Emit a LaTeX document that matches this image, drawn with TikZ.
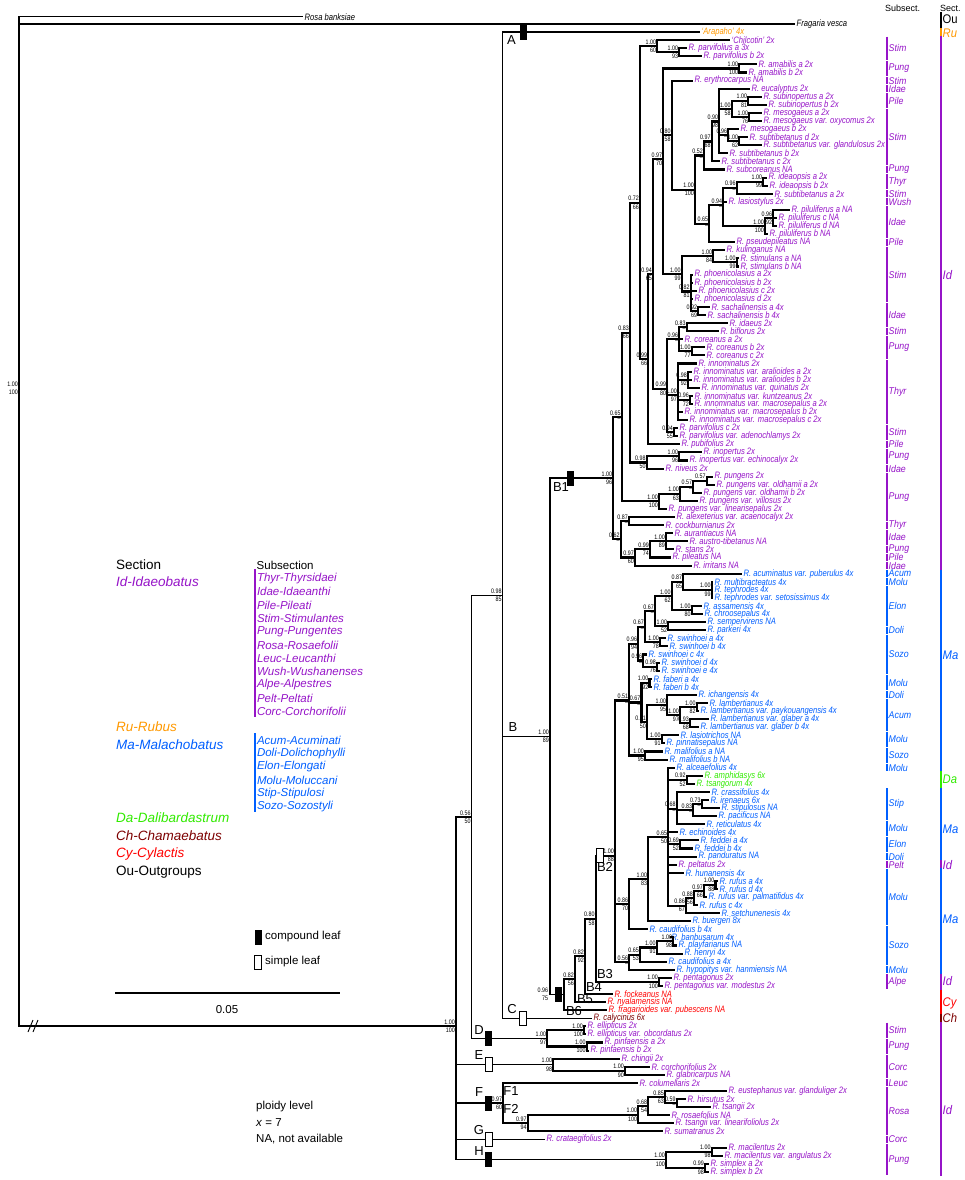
\documentclass[tikz,border=0pt]{standalone}
\usepackage{fontspec}
\setmainfont{Liberation Sans}
\newfontfamily\nar[FakeStretch=0.82]{Liberation Sans}
\newfontfamily\narb[FakeStretch=0.9]{Liberation Sans}
\usetikzlibrary{calc}
\definecolor{pu}{RGB}{150,20,200}
\definecolor{bl}{RGB}{0,95,255}
\definecolor{gr}{RGB}{50,235,0}
\definecolor{orn}{RGB}{255,153,0}
\definecolor{rd}{RGB}{255,0,0}
\definecolor{drd}{RGB}{125,0,0}
\newcommand\lfont{\nar\itshape\fontsize{9.3}{9.3}\selectfont}
\newcommand\supf{\nar\fontsize{6.5}{6.5}\selectfont}
\newdimen\tmpy
\tikzset{
  leaf/.style={anchor=west, inner sep=0pt, xshift=1.5pt, font=\lfont},
  br/.style={line width=2.1pt},
  bb/.style={line width=1.4pt},
  post/.style={anchor=south east, inner sep=0pt, font=\supf, xshift=-1pt, yshift=1.6pt},
  boot/.style={anchor=north east, inner sep=0pt, font=\supf, xshift=-1pt, yshift=-1.6pt},
  cmp/.style={draw=black, fill=black, minimum width=6pt, minimum height=14pt, inner sep=0pt, line width=0.6pt},
  smp/.style={draw=black, fill=white, minimum width=7pt, minimum height=14pt, inner sep=0pt, line width=0.6pt},
  clade/.style={font=\fontsize{13}{13}\selectfont, inner sep=0pt},
  sslab/.style={anchor=west, inner sep=0pt, xshift=1.5pt, font=\narb\itshape\fontsize{9.8}{9.8}\selectfont},
  seclab/.style={anchor=west, inner sep=0pt, xshift=1.5pt, font=\narb\itshape\fontsize{12.5}{12.5}\selectfont},
  lgbig/.style={anchor=west, inner sep=0pt, font=\fontsize{13.5}{13.5}\selectfont},
  lgsm/.style={anchor=west, inner sep=0pt, font=\fontsize{11.5}{11.5}\selectfont},
}
% leaf: index, x of branch end, colour, text
\newcommand\lf[4]{%
  \pgfmathsetmacro\ly{24+(#1-1)*8.083}%
  \coordinate (l#1) at (#2,\ly);%
  \node[leaf,text=#3] (t#1) at (l#1) {#4};%
}
% internal node: [style] name, x, children, posterior, bootstrap
\newcommand\nd[6][br]{%
  \gdef\sumy{0}\gdef\cnty{0}%
  \foreach \ch in {#4}{%
    \pgfextracty{\tmpy}{\pgfpointanchor{\ch}{center}}%
    \pgfmathsetmacro\tmpa{\sumy+(\the\tmpy)}\xdef\sumy{\tmpa}%
    \pgfmathsetmacro\tmpa{\cnty+1}\xdef\cnty{\tmpa}%
  }%
  \pgfmathsetmacro\tmpa{\sumy/\cnty}%
  \coordinate (#2) at (#3pt,\tmpa pt);%
  \foreach \ch in {#4}{\draw[#1] (#2) |- (\ch);}%
  \node[post] (p#2) at (#2) {#5};%
  \node[boot] (b#2) at (#2) {#6};%
}
\newcommand\ndy[7][br]{%
  \coordinate (#2) at (#3,#4);%
  \foreach \ch in {#5}{\draw[#1] (#2) |- (\ch);}%
  \node[post] (p#2) at (#2) {#6};%
  \node[boot] (b#2) at (#2) {#7};%
}
% subsection bar: first leaf, last leaf, colour, label
\newcommand\ssec[4]{%
  \pgfmathsetmacro\ya{24+(#1-1)*8.083-3.6}%
  \pgfmathsetmacro\yb{24+(#2-1)*8.083+3.6}%
  \pgfmathsetmacro\ym{(\ya+\yb)/2}%
  \draw[#3, line width=1.6pt] (887,\ya) -- (887,\yb);%
  \node[sslab,text=#3] (ss#1) at (887,\ym) {#4};%
}
% section bar: y1, y2, colour, label, label y, name
\newcommand\secb[6]{%
  \draw[#3, line width=1.6pt] (941,#1) -- (941,#2);%
  \node[seclab,text=#3] (sc#6) at (941,#5) {#4};%
}
\begin{document}
\begin{tikzpicture}[x=1pt,y=-1pt]
\fill[white] (0,0) rectangle (965,1180);
\useasboundingbox (0,0) rectangle (965,1180);

% ---------------- leaves ----------------
\lf{1}{795}{black}{Fragaria vesca}
\lf{2}{700}{orn}{‘Arapaho’ 4x}
\lf{3}{730}{pu}{‘Chilcotin’ 2x}
\lf{4}{687}{pu}{R. parvifolius a 3x}
\lf{5}{702}{pu}{R. parvifolius b 2x}
\lf{6}{757}{pu}{R. amabilis a 2x}
\lf{7}{747}{pu}{R. amabilis b 2x}
\lf{8}{693}{pu}{R. erythrocarpus NA}
\lf{9}{750}{pu}{R. eucalyptus 2x}
\lf{10}{762}{pu}{R. subinopertus a 2x}
\lf{11}{767}{pu}{R. subinopertus b 2x}
\lf{12}{762}{pu}{R. mesogaeus a 2x}
\lf{13}{762}{pu}{R. mesogaeus var. oxycomus 2x}
\lf{14}{739}{pu}{R. mesogaeus b 2x}
\lf{15}{748}{pu}{R. subtibetanus d 2x}
\lf{16}{762}{pu}{R. subtibetanus var. glandulosus 2x}
\lf{17}{728}{pu}{R. subtibetanus b 2x}
\lf{18}{720}{pu}{R. subtibetanus c 2x}
\lf{19}{725}{pu}{R. subcoreanus NA}
\lf{20}{767}{pu}{R. ideaopsis a 2x}
\lf{21}{768}{pu}{R. ideaopsis b 2x}
\lf{22}{773}{pu}{R. subtibetanus a 2x}
\lf{23}{727}{pu}{R. lasiostylus 2x}
\lf{24}{790}{pu}{R. piluliferus a NA}
\lf{25}{777}{pu}{R. piluliferus c NA}
\lf{26}{777}{pu}{R. piluliferus d NA}
\lf{27}{768}{pu}{R. piluliferus b NA}
\lf{28}{735}{pu}{R. pseudepileatus NA}
\lf{29}{725}{pu}{R. kulinganus NA}
\lf{30}{739}{pu}{R. stimulans a NA}
\lf{31}{739}{pu}{R. stimulans b NA}
\lf{32}{693}{pu}{R. phoenicolasius a 2x}
\lf{33}{693}{pu}{R. phoenicolasius b 2x}
\lf{34}{697}{pu}{R. phoenicolasius c 2x}
\lf{35}{693}{pu}{R. phoenicolasius d 2x}
\lf{36}{710}{pu}{R. sachalinensis a 4x}
\lf{37}{706}{pu}{R. sachalinensis b 4x}
\lf{38}{728}{pu}{R. idaeus 2x}
\lf{39}{719}{pu}{R. biflorus 2x}
\lf{40}{683}{pu}{R. coreanus a 2x}
\lf{41}{705}{pu}{R. coreanus b 2x}
\lf{42}{705}{pu}{R. coreanus c 2x}
\lf{43}{697}{pu}{R. innominatus 2x}
\lf{44}{692}{pu}{R. innominatus var. aralioides a 2x}
\lf{45}{692}{pu}{R. innominatus var. aralioides b 2x}
\lf{46}{700}{pu}{R. innominatus var. quinatus 2x}
\lf{47}{693}{pu}{R. innominatus var. kuntzeanus 2x}
\lf{48}{693}{pu}{R. innominatus var. macrosepalus a 2x}
\lf{49}{683}{pu}{R. innominatus var. macrosepalus b 2x}
\lf{50}{688}{pu}{R. innominatus var. macrosepalus c 2x}
\lf{51}{678}{pu}{R. parvifolius c 2x}
\lf{52}{678}{pu}{R. parvifolius var. adenochlamys 2x}
\lf{53}{680}{pu}{R. pubifolius 2x}
\lf{54}{702}{pu}{R. inopertus 2x}
\lf{55}{688}{pu}{R. inopertus var. echinocalyx 2x}
\lf{56}{664}{pu}{R. niveus 2x}
\lf{57}{713}{pu}{R. pungens 2x}
\lf{58}{715}{pu}{R. pungens var. oldhamii a 2x}
\lf{59}{702}{pu}{R. pungens var. oldhamii b 2x}
\lf{60}{698}{pu}{R. pungens var. villosus 2x}
\lf{61}{667}{pu}{R. pungens var. linearisepalus 2x}
\lf{62}{675}{pu}{R. alexeterius var. acaenocalyx 2x}
\lf{63}{664}{pu}{R. cockburnianus 2x}
\lf{64}{673}{pu}{R. aurantiacus NA}
\lf{65}{688}{pu}{R. austro-tibetanus NA}
\lf{66}{674}{pu}{R. stans 2x}
\lf{67}{671}{pu}{R. pileatus NA}
\lf{68}{692}{pu}{R. irritans NA}
\lf{69}{742}{bl}{R. acuminatus var. puberulus 4x}
\lf{70}{713}{bl}{R. multibracteatus 4x}
\lf{71}{713}{bl}{R. tephrodes 4x}
\lf{72}{713}{bl}{R. tephrodes var. setosissimus 4x}
\lf{73}{702}{bl}{R. assamensis 4x}
\lf{74}{703}{bl}{R. chroosepalus 4x}
\lf{75}{706}{bl}{R. sempervirens NA}
\lf{76}{706}{bl}{R. parkeri 4x}
\lf{77}{666}{bl}{R. swinhoei a 4x}
\lf{78}{668}{bl}{R. swinhoei b 4x}
\lf{79}{647}{bl}{R. swinhoei c 4x}
\lf{80}{660}{bl}{R. swinhoei d 4x}
\lf{81}{660}{bl}{R. swinhoei e 4x}
\lf{82}{652}{bl}{R. faberi a 4x}
\lf{83}{652}{bl}{R. faberi b 4x}
\lf{84}{697}{bl}{R. ichangensis 4x}
\lf{85}{708}{bl}{R. lambertianus 4x}
\lf{86}{699}{bl}{R. lambertianus var. paykouangensis 4x}
\lf{87}{709}{bl}{R. lambertianus var. glaber a 4x}
\lf{88}{699}{bl}{R. lambertianus var. glaber b 4x}
\lf{89}{679}{bl}{R. lasiotrichos NA}
\lf{90}{665}{bl}{R. pinnatisepalus NA}
\lf{91}{663}{bl}{R. malifolius a NA}
\lf{92}{668}{bl}{R. malifolius b NA}
\lf{93}{675}{bl}{R. alceaefolius 4x}
\lf{94}{703}{gr}{R. amphidasys 6x}
\lf{95}{695}{gr}{R. tsangorum 4x}
\lf{96}{710}{bl}{R. crassifolius 4x}
\lf{97}{709}{bl}{R. irenaeus 6x}
\lf{98}{720}{bl}{R. stipulosus NA}
\lf{99}{717}{bl}{R. pacificus NA}
\lf{100}{705}{bl}{R. reticulatus 4x}
\lf{101}{678}{bl}{R. echinoides 4x}
\lf{102}{699}{bl}{R. feddei a 4x}
\lf{103}{693}{bl}{R. feddei b 4x}
\lf{104}{697}{bl}{R. panduratus NA}
\lf{105}{677}{pu}{R. peltatus 2x}
\lf{106}{684}{bl}{R. hunanensis 4x}
\lf{107}{718}{bl}{R. rufus a 4x}
\lf{108}{718}{bl}{R. rufus d 4x}
\lf{109}{707}{bl}{R. rufus var. palmatifidus 4x}
\lf{110}{698}{bl}{R. rufus c 4x}
\lf{111}{720}{bl}{R. setchunenesis 4x}
\lf{112}{691}{bl}{R. buergeri 8x}
\lf{113}{648}{bl}{R. caudifolius b 4x}
\lf{114}{670}{bl}{R. banbusarum 4x}
\lf{115}{677}{bl}{R. playfarianus NA}
\lf{116}{683}{bl}{R. henryi 4x}
\lf{117}{667}{bl}{R. caudifolius a 4x}
\lf{118}{675}{bl}{R. hypopitys var. hanmiensis NA}
\lf{119}{672}{pu}{R. pentagonus 2x}
\lf{120}{663}{pu}{R. pentagonus var. modestus 2x}
\lf{121}{613}{rd}{R. fockeanus NA}
\lf{122}{606}{rd}{R. nyalamensis NA}
\lf{123}{607}{rd}{R. fragarioides var. pubescens NA}
\lf{124}{592}{drd}{R. calycinus 6x}
\lf{125}{586}{pu}{R. ellipticus 2x}
\lf{126}{586}{pu}{R. ellipticus var. obcordatus 2x}
\lf{127}{603}{pu}{R. pinfaensis a 2x}
\lf{128}{589}{pu}{R. pinfaensis b 2x}
\lf{129}{620}{pu}{R. chingii 2x}
\lf{130}{650}{pu}{R. corchorifolius 2x}
\lf{131}{665}{pu}{R. glabricarpus NA}
\lf{132}{638}{pu}{R. columellaris 2x}
\lf{133}{727}{pu}{R. eustephanus var. glanduliger 2x}
\lf{134}{686}{pu}{R. hirsutus 2x}
\lf{135}{711}{pu}{R. tsangii 2x}
\lf{136}{670}{pu}{R. rosaefolius NA}
\lf{137}{674}{pu}{R. tsangii var. linearifoliolus 2x}
\lf{138}{663}{pu}{R. sumatranus 2x}
\lf{139}{545}{pu}{R. crataegifolius 2x}
\lf{140}{727}{pu}{R. macilentus 2x}
\lf{141}{723}{pu}{R. macilentus var. angulatus 2x}
\lf{142}{709}{pu}{R. simplex a 2x}
\lf{143}{709}{pu}{R. simplex b 2x}
\coordinate (lR) at (303,16.7);
\node[leaf] (tR) at (lR) {Rosa banksiae};

% ---------------- Idaeobatus (B1) ----------------
\nd{nPab}{679.3}{l4,l5}{1.00}{93}
\nd{nCh}{657.3}{l3,nPab}{1.00}{60}
\nd{nAma}{739.3}{l6,l7}{1.00}{100}
\nd{nSubi}{748.3}{l10,l11}{1.00}{81}
\nd{nMes}{749.3}{l12,l13}{1.00}{76}
\nd{nSa}{731.7}{nSubi,nMes}{1.00}{58}
\nd{nSdg}{739.3}{l15,l16}{1.00}{62}
\nd{nMb}{728.3}{l14,nSdg}{0.96}{–}
\nd{nNa}{719.3}{l9,nSa,nMb,l17}{0.90}{98}
\nd{nNb}{711.7}{nNa,l18}{0.97}{68}
\nd{nNc}{704}{nNb,l19}{0.52}{–}
\nd{nIdo}{763.3}{l20,l21}{1.00}{99}
\nd{nNd}{736.7}{nIdo,l22}{0.96}{–}
\nd{nPila}{773.3}{l24,l25,l26}{0.96}{92}
\nd{nPil}{765}{nPila,l27}{1.00}{100}
\nd{nNe}{723.3}{nNd,l23,nPil}{0.94}{–}
\nd{nNf}{709.3}{nNe,l28}{0.65}{–}
\nd{nBig}{695}{nNc,nNf}{1.00}{100}
\nd{nNg}{671.7}{l8,nBig}{0.80}{58}
\nd{nStm}{736.7}{l30,l31}{1.00}{99}
\nd{nKul}{713.3}{l29,nStm}{1.00}{84}
\nd{nSach}{698.3}{l36,l37}{0.92}{69}
\nd{nPho}{690.7}{l32,l33,l34,l35,nSach}{0.82}{81}
\nd{nKP}{681.7}{nKul,nPho}{1.00}{99}
\nd{nNh}{663.3}{nAma,nNg,nKP}{0.97}{70}
\nd{nIB}{686.7}{l38,l39}{0.83}{–}
\nd{nCor}{691.7}{l41,l42}{1.00}{77}
\nd{nNi}{679.3}{nIB,l40,nCor}{0.96}{–}
\nd{nIa}{688}{l44,l45,l46}{0.98}{92}
\nd{nIb}{690}{l47,l48}{0.96}{72}
\nd{nIc}{678}{l43,nIa,nIb,l49,l50}{1.00}{97}
\nd{nPc}{674}{l51,l52}{0.94}{55}
\nd{nNj}{667.3}{nNi,nIc,nPc}{0.99}{80}
\nd{nNk}{653}{nNh,nNj}{0.94}{65}
\nd{nNl}{648.3}{nNk,l53}{0.99}{66}
\nd{nNm}{640}{nCh,nNl}{0.72}{66}
\nd{nInop}{679.3}{l54,l55}{1.00}{96}
\nd{nNn}{646.7}{nInop,l56}{0.98}{50}
\nd{nNo}{630}{nNm,nNn}{0.83}{66}
\nd{nPa}{706.7}{l57,l58}{0.57}{}
\nd{nPb}{693.3}{nPa,l59}{0.57}{–}
\nd{nPcc}{680}{nPb,l60}{1.00}{63}
\nd{nPung}{659}{nPcc,l61}{1.00}{100}
\nd{nNp}{621.7}{nNo,nPung}{0.65}{–}
\nd{nNq}{629}{l62,l63}{0.87}{–}
\nd{nAus}{666}{l64,l65,l66}{1.00}{89}
\nd{nNr}{650}{nAus,l67}{0.99}{74}
\nd{nNs}{635}{nNr,l68}{0.97}{60}
\nd{nNt}{620.7}{nNq,nNs}{0.62}{–}
\nd{nBa}{613.3}{nNp,nNt}{1.00}{96}

% ---------------- Malachobatus etc. (B2-B6) ----------------
\nd{nMt}{711.7}{l70,l71,l72}{1.00}{99}
\nd{nMa}{683.3}{l69,nMt}{0.87}{65}
\nd{nAc}{691.7}{l73,l74}{1.00}{80}
\nd{nMc}{671.7}{nMa,nAc}{1.00}{62}
\nd{nSp}{668.3}{l75,l76}{1.00}{52}
\nd{nMd}{655}{nMc,nSp}{0.67}{–}
\nd{nSwab}{660}{l77,l78}{1.00}{78}
\nd{nMe}{645}{nMd,nSwab}{0.67}{–}
\nd{nSwde}{657}{l80,l81}{0.98}{76}
\nd{nMf}{643.3}{l79,nSwde}{0.96}{–}
\nd{nMg}{638.3}{nMe,nMf}{0.96}{94}
\nd{nFab}{649.5}{l82,l83}{1.00}{92}
\nd{nLa}{696.7}{l85,l86}{1.00}{82}
\nd{nLb}{690}{l87,l88}{0.93}{68}
\nd{nLc}{680}{nLa,nLb}{1.00}{97}
\nd{nLd}{667.3}{l84,nLc}{1.00}{95}
\nd{nLp}{661.7}{l89,l90}{1.00}{91}
\nd{nMh}{647}{nLd,nLp}{0.81}{50}
\nd{nMi}{641.5}{nFab,nMh}{0.67}{–}
\nd{nMal}{645}{l91,l92}{1.00}{95}
\nd{nMj}{629.3}{nMg,nMi,nMal}{0.51}{–}
\nd{nAmph}{686.7}{l94,l95}{0.92}{52}
\nd{nSta}{701.7}{l97,l98}{0.73}{–}
\nd{nStb}{693.3}{nSta,l99}{0.83}{–}
\nd{nStc}{676.7}{l96,nStb,l100}{0.68}{–}
\nd{nFed}{680}{l102,l103}{0.69}{52}
\nd{nRa}{715.5}{l107,l108}{1.00}{88}
\nd{nRb}{704}{nRa,l109}{0.97}{66}
\nd{nRc}{694}{nRb,l110}{0.88}{56}
\nd{nRd}{686}{nRc,l111}{0.86}{67}
\nd{nMk}{668.3}{l93,nAmph,nStc,l101,nFed,l104,l105,l106,nRd}{0.65}{50}
\nd{nMl}{648.3}{nMk,l112}{1.00}{83}
\nd{nMm}{629.3}{nMl,l113}{0.86}{70}
\nd{nBp}{673.3}{l114,l115}{1.00}{98}
\nd{nMn}{656.7}{nBp,l116}{1.00}{91}
\nd{nMo}{640}{nMn,l117}{0.65}{53}
\nd{nMq}{629.3}{nMo,l118}{0.56}{–}
\nd{nBb}{615}{nMj,nMm,nMq}{1.00}{88}
\nd{nBc}{659}{l119,l120}{1.00}{100}
\nd{nXa}{595.7}{nBb,nBc}{0.80}{58}
\nd{nXb}{585}{nXa,l121}{0.82}{92}
\nd{nXc}{575}{nXb,l122}{0.82}{56}
\nd{nXd}{564.3}{nXc,l123}{}{}
\nd[bb]{nB}{550}{nBa,nXd}{1.00}{89}
\nd[bb]{nZa}{502.7}{l2,nB,l124}{0.98}{85}

% ---------------- D - H ----------------
\nd{nEll}{584}{l125,l126}{1.00}{100}
\nd{nPin}{586.7}{l127,l128}{1.00}{100}
\nd{nD}{547.3}{nEll,nPin}{1.00}{97}
\nd[bb]{nZb}{471.7}{nZa,nD}{0.56}{50}
\nd{nCc}{625}{l130,l131}{1.00}{90}
\nd{nE}{553.3}{l129,nCc}{1.00}{98}
\nd{nHt}{676.7}{l134,l135}{0.59}{–}
\nd{nRo}{665}{l133,nHt}{0.85}{63}
\nd{nRp}{648.3}{nRo,l136}{0.68}{54}
\nd{nRq}{638.3}{nRp,l137}{1.00}{100}
\nd{nFb}{527.7}{nRq,l138}{0.97}{94}
\nd{nF}{503.3}{l132,nFb}{0.97}{60}
\nd{nMac}{711.7}{l140,l141}{1.00}{98}
\nd{nSim}{705}{l142,l143}{0.99}{98}
\nd{nH}{666}{nMac,nSim}{1.00}{100}
\ndy[bb]{nMain}{456}{1026}{nZb,nE,nF,l139,nH}{1.00}{100}

% root
\coordinate (root) at (19,500);
\draw[bb] (root) |- (lR);
\draw[bb] (root) |- (l1);
\draw[bb] (root) |- (nMain);
\node[post] (proot) at (19,388) {1.00};
\node[boot] (broot) at (19,388) {100};
\coordinate (brk1) at (28,1032); \coordinate (brk2) at (33,1020);
\coordinate (brk3) at (33,1032); \coordinate (brk4) at (38,1020);
\draw[line width=0.9pt] (brk1) -- (brk2) (brk3) -- (brk4);

% label of node 0.96/75 (set left of the B line)
\node[post,xshift=-15pt] (pnXd) at (nXd) {0.96};
\node[boot,xshift=-15pt] (bnXd) at (nXd) {75};

% leaf-character boxes
\node[cmp] (rA) at ($(l2)+(-177,0)$) {};
\node[cmp] (rB1) at ($(nBa)+(-42.8,0)$) {};
\node[smp] (rB2) at ($(nBb)+(-15,0)$) {};
\node[cmp] (rXd) at ($(nXd)+(-5.8,0)$) {};
\node[smp] (rC) at ($(l124)+(-69,0)$) {};
\node[cmp] (rD) at ($(nD)+(-58.8,0)$) {};
\node[smp] (rE) at ($(nE)+(-64.8,0)$) {};
\node[cmp] (rF) at ($(nF)+(-14.8,0)$) {};
\node[smp] (rG) at ($(l139)+(-56.5,0)$) {};
\node[cmp] (rH) at ($(nH)+(-177.5,0)$) {};

% clade letters
\node[clade] (cA) at (511.5,40) {A};
\node[clade] (cB) at (513,727) {B};
\node[clade] (cB1) at (561,487) {B1};
\node[clade] (cB2) at (605,867) {B2};
\node[clade] (cB3) at (605,974) {B3};
\node[clade] (cB4) at (594,987) {B4};
\node[clade] (cB5) at (585,999) {B5};
\node[clade] (cB6) at (574,1011) {B6};
\node[clade] (cC) at (512,1009) {C};
\node[clade] (cD) at (479,1030) {D};
\node[clade] (cE) at (479,1055) {E};
\node[clade] (cF) at (479,1092) {F};
\node[clade] (cF1) at (511,1091) {F1};
\node[clade] (cF2) at (511,1109) {F2};
\node[clade] (cG) at (479,1130) {G};
\node[clade] (cH) at (479,1151) {H};

% ---------------- right columns ----------------
\node[anchor=west, inner sep=0pt, font=\fontsize{9}{9}\selectfont] (hSub) at (885,8) {Subsect.};
\node[anchor=west, inner sep=0pt, font=\fontsize{9}{9}\selectfont] (hSec) at (940,8) {Sect.};
\ssec{3}{5}{pu}{Stim}
\ssec{6}{7}{pu}{Pung}
\ssec{8}{8}{pu}{Stim}
\ssec{9}{9}{pu}{Idae}
\ssec{10}{11}{pu}{Pile}
\ssec{12}{18}{pu}{Stim}
\ssec{19}{19}{pu}{Pung}
\ssec{20}{21}{pu}{Thyr}
\ssec{22}{22}{pu}{Stim}
\ssec{23}{23}{pu}{Wush}
\ssec{24}{27}{pu}{Idae}
\ssec{28}{28}{pu}{Pile}
\ssec{29}{35}{pu}{Stim}
\ssec{36}{38}{pu}{Idae}
\ssec{39}{39}{pu}{Stim}
\ssec{40}{42}{pu}{Pung}
\ssec{43}{50}{pu}{Thyr}
\ssec{51}{52}{pu}{Stim}
\ssec{53}{53}{pu}{Pile}
\ssec{54}{55}{pu}{Pung}
\ssec{56}{56}{pu}{Idae}
\ssec{57}{62}{pu}{Pung}
\ssec{63}{63}{pu}{Thyr}
\ssec{64}{65}{pu}{Idae}
\ssec{66}{66}{pu}{Pung}
\ssec{67}{67}{pu}{Pile}
\ssec{68}{68}{pu}{Idae}
\ssec{69}{69}{bl}{Acum}
\ssec{70}{70}{bl}{Molu}
\ssec{71}{75}{bl}{Elon}
\ssec{76}{76}{bl}{Doli}
\ssec{77}{81}{bl}{Sozo}
\ssec{82}{83}{bl}{Molu}
\ssec{84}{84}{bl}{Doli}
\ssec{85}{88}{bl}{Acum}
\ssec{89}{90}{bl}{Molu}
\ssec{91}{92}{bl}{Sozo}
\ssec{93}{93}{bl}{Molu}
\ssec{96}{99}{bl}{Stip}
\ssec{100}{101}{bl}{Molu}
\ssec{102}{103}{bl}{Elon}
\ssec{104}{104}{bl}{Doli}
\ssec{105}{105}{pu}{Pelt}
\ssec{106}{112}{bl}{Molu}
\ssec{113}{117}{bl}{Sozo}
\ssec{118}{118}{bl}{Molu}
\ssec{119}{120}{pu}{Alpe}
\ssec{125}{126}{pu}{Stim}
\ssec{127}{128}{pu}{Pung}
\ssec{129}{131}{pu}{Corc}
\ssec{132}{132}{pu}{Leuc}
\ssec{133}{138}{pu}{Rosa}
\ssec{139}{139}{pu}{Corc}
\ssec{140}{143}{pu}{Pung}

\draw[black, line width=1.6pt] (941,12) -- (941,28);
\node[anchor=west, inner sep=0pt, xshift=1.5pt, font=\narb\fontsize{12.5}{12.5}\selectfont] (scOu) at (941,19) {Ou};
\secb{28}{36.5}{orn}{Ru}{33}{Ru}
\secb{36.5}{569.5}{pu}{Id}{275}{IdA}
\secb{569.5}{771}{bl}{Ma}{655}{MaA}
\secb{771}{787.5}{gr}{Da}{779}{Da}
\secb{787.5}{860}{bl}{Ma}{829}{MaB}
\secb{860}{868}{pu}{Id}{865}{IdB}
\secb{868}{973.5}{bl}{Ma}{919}{MaC}
\secb{973.5}{990}{pu}{Id}{981}{IdC}
\secb{990}{1013.5}{rd}{Cy}{1003}{Cy}
\secb{1013.5}{1022}{drd}{Ch}{1018}{Ch}
\secb{1022}{1176}{pu}{Id}{1110}{IdD}

% ---------------- legend ----------------
\node[lgbig] (lgSec) at (116,565) {Section};
\node[lgbig, text=pu, font=\fontsize{13.5}{13.5}\selectfont\itshape] (lgId) at (116,582) {Id-Idaeobatus};
\node[lgbig, text=orn, font=\fontsize{13.5}{13.5}\selectfont\itshape] (lgRu) at (116,727) {Ru-Rubus};
\node[lgbig, text=bl, font=\fontsize{13.5}{13.5}\selectfont\itshape] (lgMa) at (116,745) {Ma-Malachobatus};
\node[lgbig, text=gr, font=\fontsize{13.5}{13.5}\selectfont\itshape] (lgDa) at (116,818) {Da-Dalibardastrum};
\node[lgbig, text=drd, font=\fontsize{13.5}{13.5}\selectfont\itshape] (lgCh) at (116,836) {Ch-Chamaebatus};
\node[lgbig, text=rd, font=\fontsize{13.5}{13.5}\selectfont\itshape] (lgCy) at (116,854) {Cy-Cylactis};
\node[lgbig] (lgOu) at (116,872) {Ou-Outgroups};
\node[lgsm] (lgSub) at (256.5,565) {Subsection};
\coordinate (lgpa) at (255,569); \coordinate (lgpb) at (255,717);
\draw[pu, line width=1.3pt] (lgpa) -- (lgpb);
\coordinate (lgba) at (255,733); \coordinate (lgbb) at (255,812);
\draw[bl, line width=1.3pt] (lgba) -- (lgbb);
\foreach \t [count=\k from 0] in {Thyr-Thyrsidaei,Idae-Idaeanthi,Pile-Pileati,Stim-Stimulantes,Pung-Pungentes,Rosa-Rosaefolii,Leuc-Leucanthi,Wush-Wushanenses,Alpe-Alpestres,Pelt-Peltati,Corc-Corchorifolii}
  \node[lgsm, text=pu, font=\fontsize{11.5}{11.5}\selectfont\itshape] (lgp\k) at (256.8,{578.3+\k*13.33}) {\t};
\foreach \t [count=\k from 0] in {Acum-Acuminati,Doli-Dolichophylli,Elon-Elongati,Molu-Moluccani,Stip-Stipulosi,Sozo-Sozostyli}
  \node[lgsm, text=bl, font=\fontsize{11.5}{11.5}\selectfont\itshape] (lgb\k) at (256.8,{740+\k*13.33}) {\t};
\node[cmp] (lgc) at (258,937) {};
\node[lgsm] (lgct) at (265,937) {compound leaf};
\node[smp] (lgs) at (258,962) {};
\node[lgsm] (lgst) at (265,962) {simple leaf};
\coordinate (sba) at (115,993); \coordinate (sbb) at (340,993);
\draw[line width=1.4pt] (sba) -- (sbb);
\node[font=\fontsize{11.5}{11.5}\selectfont, inner sep=0pt] (sbt) at (227,1010) {0.05};
\node[lgsm] (pl1) at (256,1107) {ploidy level};
\node[lgsm] (pl2) at (256,1123) {\textit{x} = 7};
\node[lgsm] (pl3) at (256,1139) {NA, not available};
\end{tikzpicture}
\end{document}
